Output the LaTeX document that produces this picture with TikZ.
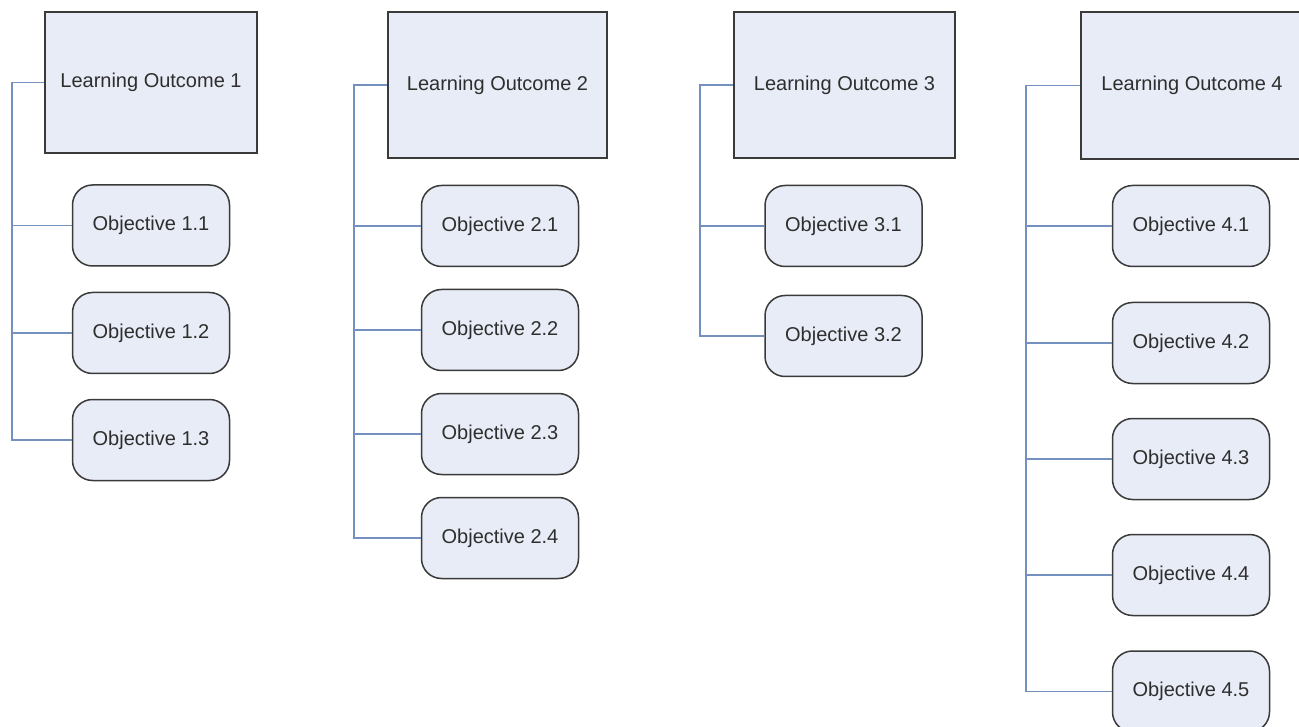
\documentclass[tikz,border=0pt]{standalone}
\usepackage{fontspec}
\setmainfont{Liberation Sans}
\definecolor{boxfill}{HTML}{E7ECF6}
\definecolor{boxline}{HTML}{3A3A3A}
\definecolor{linkline}{HTML}{7390BE}
\definecolor{txt}{HTML}{2E2E2E}
\begin{document}
\begin{tikzpicture}[x=1pt,y=-1pt,
  every node/.style={font=\fontsize{20}{24}\selectfont, text=txt},
  outcome/.style={draw=boxline, line width=1.5pt, fill=boxfill, rectangle, inner sep=0pt},
  objective/.style={draw=boxline, line width=1.5pt, fill=boxfill, rectangle, rounded corners=20pt,
    minimum width=157pt, minimum height=81pt, inner sep=0pt},
  link/.style={draw=linkline, line width=1.5pt}]
\useasboundingbox (0,0) rectangle (1299,727);
\begin{scope}
\clip (0,0) rectangle (1299,727);

% learning outcomes
\node[outcome, minimum width=212pt, minimum height=141pt] (lo1) at (151,82.5) {Learning Outcome 1};
\node[outcome, minimum width=219pt, minimum height=146pt] (lo2) at (497.5,85) {Learning Outcome 2};
\node[outcome, minimum width=221pt, minimum height=146pt] (lo3) at (844.5,85) {Learning Outcome 3};
\node[outcome, minimum width=222pt, minimum height=147pt] (lo4) at (1192,85.5) {Learning Outcome 4};

% objectives
\node[objective] (o11) at (151,225.5) {Objective 1.1};
\node[objective] (o12) at (151,333) {Objective 1.2};
\node[objective] (o13) at (151,440) {Objective 1.3};

\node[objective] (o21) at (500,226) {Objective 2.1};
\node[objective] (o22) at (500,330) {Objective 2.2};
\node[objective] (o23) at (500,434) {Objective 2.3};
\node[objective] (o24) at (500,538) {Objective 2.4};

\node[objective] (o31) at (843.5,226) {Objective 3.1};
\node[objective] (o32) at (843.5,336) {Objective 3.2};

\node[objective] (o41) at (1191,226) {Objective 4.1};
\node[objective] (o42) at (1191,343) {Objective 4.2};
\node[objective] (o43) at (1191,459) {Objective 4.3};
\node[objective] (o44) at (1191,575) {Objective 4.4};
\node[objective] (o45) at (1191,691.5) {Objective 4.5};

% trunk positions
\coordinate (t1) at (12,0);
\coordinate (t2) at (354,0);
\coordinate (t3) at (700,0);
\coordinate (t4) at (1026,0);

% connectors
\begin{scope}[on background layer/.try]
\draw[link] (lo1.west) -- (lo1.west -| t1) -- (o13.west -| t1) -- (o13.west);
\draw[link] (o11.west -| t1) -- (o11.west);
\draw[link] (o12.west -| t1) -- (o12.west);

\draw[link] (lo2.west) -- (lo2.west -| t2) -- (o24.west -| t2) -- (o24.west);
\draw[link] (o21.west -| t2) -- (o21.west);
\draw[link] (o22.west -| t2) -- (o22.west);
\draw[link] (o23.west -| t2) -- (o23.west);

\draw[link] (lo3.west) -- (lo3.west -| t3) -- (o32.west -| t3) -- (o32.west);
\draw[link] (o31.west -| t3) -- (o31.west);

\draw[link] (lo4.west) -- (lo4.west -| t4) -- (o45.west -| t4) -- (o45.west);
\draw[link] (o41.west -| t4) -- (o41.west);
\draw[link] (o42.west -| t4) -- (o42.west);
\draw[link] (o43.west -| t4) -- (o43.west);
\draw[link] (o44.west -| t4) -- (o44.west);
\end{scope}
\end{scope}
\end{tikzpicture}
\end{document}
